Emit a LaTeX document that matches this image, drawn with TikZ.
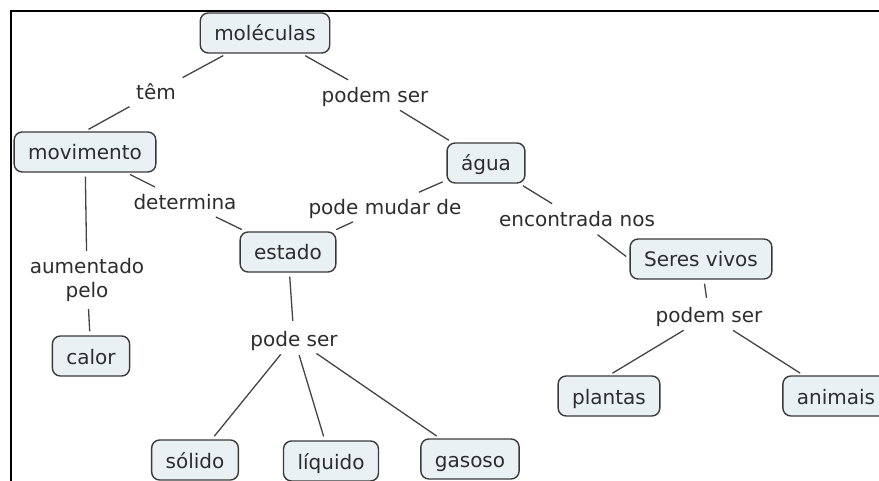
\documentclass[tikz,border=0pt]{standalone}
\usepackage{fontspec}
\setmainfont{DejaVu Sans}
\usetikzlibrary{positioning,calc}
\definecolor{boxfill}{RGB}{234,241,245}
\definecolor{boxline}{RGB}{58,58,58}
\definecolor{linkgray}{RGB}{68,68,68}
\definecolor{txtgray}{RGB}{45,45,45}
\tikzset{
	concept/.style={draw=boxline,fill=boxfill,rounded corners=8pt,line width=1.4pt,
		minimum height=40pt,inner xsep=14pt,inner ysep=0pt,text height=18pt,text depth=2pt,
		text=txtgray,font=\fontsize{20}{24}\selectfont},
	linkword/.style={inner sep=3pt,text height=18pt,text depth=2pt,text=txtgray,
		font=\fontsize{20}{24}\selectfont},
	link/.style={draw=linkgray,line width=1.3pt,shorten <=4pt,shorten >=4pt}
}
\begin{document}
\begin{tikzpicture}[x=1pt,y=-1pt]
		\useasboundingbox (0,0) rectangle (879,481);
		\clip (0,0) rectangle (879,481);
		\draw[line width=2pt] (11,482) -- (11,11) -- (880,11);
		\node[concept] (mol) at (265,33) {moléculas};
		\node[concept] (mov) at (85,152) {movimento};
		\node[concept] (agua) at (486,163) {água};
		\node[concept] (estado) at (288,252) {estado};
		\node[concept] (seres) at (701,259) {Seres vivos};
		\node[concept] (calor) at (91,356) {calor};
		\node[concept] (plantas) at (609,396) {plantas};
		\node[concept] (animais) at (836,396) {animais};
		\node[concept] (solido) at (195,460) {sólido};
		\node[concept] (liquido) at (331,461) {líquido};
		\node[concept] (gasoso) at (470,459) {gasoso};
		\node[linkword] (tem) at (156,92) {têm};
		\node[linkword] (podem) at (375,95) {podem ser};
		\node[linkword] (determina) at (185,202) {determina};
		\node[linkword] (mudar) at (385,207) {pode mudar de};
		\node[linkword] (encontrada) at (577,219) {encontrada nos};
		\node[linkword,align=center,text height=,text depth=] (aumentado) at (87,280) {aumentado\\pelo};
		\node[linkword] (podeser) at (294,338) {pode ser};
		\node[linkword] (podemser) at (709,315) {podem ser};
		\draw[link] (mol) -- (tem);
		\draw[link] (tem) -- (mov.north);
		\draw[link] (mol) -- (podem);
		\draw[link] (podem) -- (agua);
		\draw[link] (mov) -- (determina);
		\draw[link] (determina) -- (estado);
		\draw[link] (agua) -- (mudar);
		\draw[link] (mudar) -- (estado);
		\draw[link] (agua) -- (encontrada);
		\draw[link] (encontrada) -- (seres.west);
		\draw[link] (mov) -- (aumentado);
		\draw[link] (aumentado) -- (calor);
		\draw[link] (estado) -- (podeser);
		\draw[link] (podeser) -- (solido);
		\draw[link] (podeser) -- (liquido);
		\draw[link] (podeser) -- (gasoso);
		\draw[link] (seres) -- (podemser);
		\draw[link] (podemser) -- (plantas.north);
		\draw[link] (podemser) -- (animais);
	\end{tikzpicture}
\end{document}
